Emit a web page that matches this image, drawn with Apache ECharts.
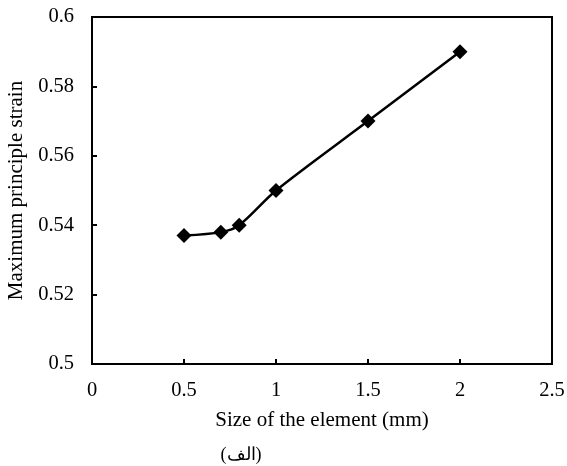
<!DOCTYPE html>
<html>
<head>
<meta charset="utf-8">
<script src="https://cdn.jsdelivr.net/npm/echarts@6/dist/echarts.min.js"></script>
<style>
html,body{margin:0;padding:0;background:#fff;}
#main{width:567px;height:466px;}
</style>
</head>
<body>
<div id="main"></div>
<script>
var xValues = [0.5, 0.7, 0.8, 1.0, 1.5, 2.0];
var yValues = [0.537, 0.538, 0.540, 0.550, 0.570, 0.590];
var xTitle = 'Size of the element (mm)';
var yTitle = 'Maximum principle strain';
var caption = '(الف)';

var chart = echarts.init(document.getElementById('main'), null, {renderer: 'canvas'});
var font = '"Liberation Serif", "Times New Roman", serif';
chart.setOption({
  animation: false,
  backgroundColor: '#fff',
  textStyle: {fontFamily: font},
  title: {
    text: caption,
    left: 236, top: 441,
    textAlign: 'center',
    textStyle: {fontFamily: font, fontSize: 18, fontWeight: 'normal', color: '#000'}
  },
  grid: {left: 92, top: 17, width: 460, height: 347, show: true, borderColor: '#000', borderWidth: 2,
    backgroundColor: 'transparent', containLabel: false, outerBoundsMode: 'none'},
  xAxis: {
    type: 'value', min: 0, max: 2.5, interval: 0.5,
    name: xTitle, nameLocation: 'middle', nameGap: 46,
    nameTextStyle: {fontFamily: font, fontSize: 21, color: '#000'},
    axisLine: {show: true, lineStyle: {color: '#000', width: 2}},
    axisTick: {show: true, inside: true, length: 5, lineStyle: {color: '#000', width: 2}},
    axisLabel: {fontFamily: font, fontSize: 20.5, color: '#000', margin: 16},
    splitLine: {show: false}
  },
  yAxis: {
    type: 'value', min: 0.5, max: 0.6, interval: 0.02,
    name: yTitle, nameLocation: 'middle', nameGap: 62, nameRotate: 90,
    nameTextStyle: {fontFamily: font, fontSize: 21, color: '#000'},
    axisLine: {show: true, lineStyle: {color: '#000', width: 2}},
    axisTick: {show: true, inside: true, length: 5, lineStyle: {color: '#000', width: 2}},
    axisLabel: {fontFamily: font, fontSize: 20.5, color: '#000', margin: 18,
      formatter: function (v) { return String(+v.toFixed(2)); }},
    splitLine: {show: false}
  },
  series: [{
    type: 'line',
    data: xValues.map(function (x, i) { return [x, yValues[i]]; }),
    smooth: 0.3,
    symbol: 'diamond',
    symbolSize: 15,
    itemStyle: {color: '#000'},
    lineStyle: {color: '#000', width: 2.5}
  }]
});
</script>
</body>
</html>
